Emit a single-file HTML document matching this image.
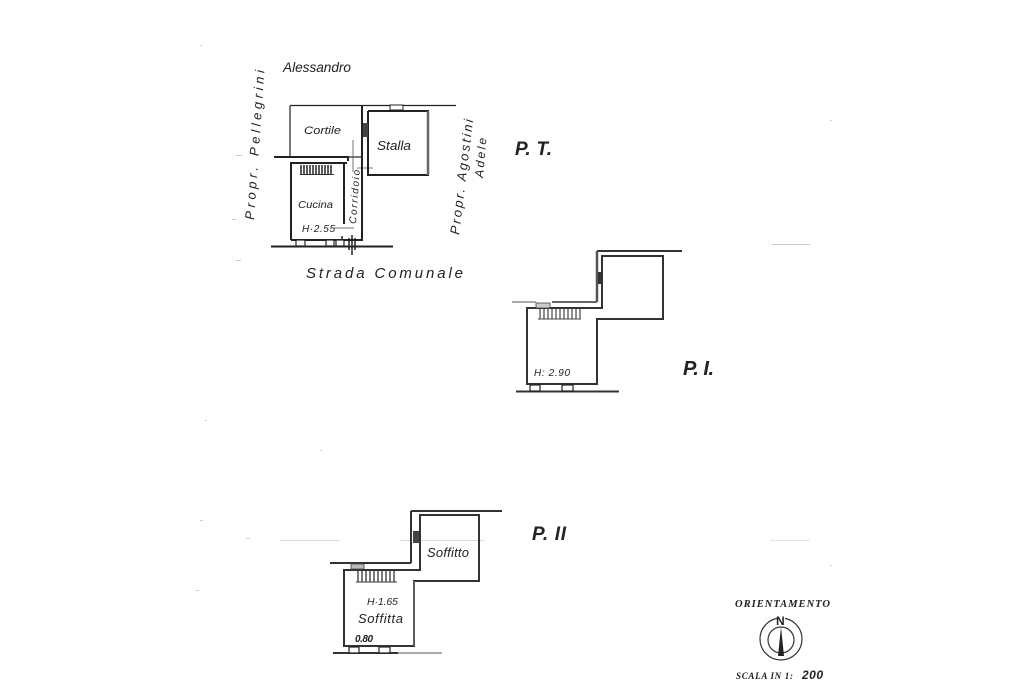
<!DOCTYPE html>
<html><head><meta charset="utf-8"><style>
html,body{margin:0;padding:0;background:#fff;width:1024px;height:682px;overflow:hidden}
svg{display:block;filter:blur(.35px)}
text{font-family:"Liberation Sans",sans-serif;font-style:italic;fill:#222}
</style></head><body>
<svg width="1024" height="682" viewBox="0 0 1024 682" xmlns="http://www.w3.org/2000/svg">
<rect width="1024" height="682" fill="#fff"/>
<!-- specks -->
<g fill="#ccc">
<rect x="236" y="155" width="6" height="1"/><rect x="232" y="219" width="4" height="1"/><rect x="236" y="260" width="5" height="1"/>
<rect x="772" y="244" width="38" height="1"/><rect x="246" y="538" width="4" height="1"/><rect x="280" y="540" width="60" height="1" fill="#ddd"/>
<rect x="400" y="540" width="85" height="1" fill="#ddd"/><rect x="200" y="520" width="3" height="1"/><rect x="196" y="590" width="3" height="1"/>
<rect x="320" y="450" width="2" height="1"/><rect x="205" y="420" width="2" height="1"/><rect x="830" y="565" width="2" height="1"/>
<rect x="200" y="45" width="2" height="1"/><rect x="830" y="120" width="2" height="1"/><rect x="770" y="540" width="40" height="1" fill="#e4e4e4"/>
</g>

<!-- P.T. plan -->
<g fill="none" stroke="#222" stroke-width="1.2">
<path d="M290 105.500H456M290 106V157"/>
<path d="M348 157H362"/>
<path d="M353 140V172M357 168H373" stroke="#555" stroke-width=".8"/>
</g>
<g fill="none" stroke="#222" stroke-width="2">
<path d="M274 157H348V161"/>
<path d="M291 240V163H347"/>
<path d="M291 240H362V106"/>
<path d="M368 111V175H428V111H368"/>
<path d="M344 163V224"/>
<path d="M271 246.500H393"/>
</g>
<path d="M428 111V175" stroke="#666" stroke-width="2.500" fill="none"/>
<rect x="390" y="105" width="13" height="5" fill="#fff" stroke="#222"/>
<rect x="363" y="123" width="5" height="14" fill="#444"/>
<path d="M301 165V174M304 165V174M307 165V174M310 165V174M313 165V174M316 165V174M319 165V174M322 165V174M325 165V174M328 165V174M331 165V174" stroke="#333" stroke-width="1.600"/>
<path d="M300 174.500H334" stroke="#333"/>
<g fill="#fff" stroke="#222" stroke-width="1.200">
<rect x="296" y="240" width="9" height="6"/><rect x="326" y="240" width="8" height="6"/><rect x="336" y="240" width="8" height="6"/>
</g>
<path d="M352 235V255M349 238V250M355 238V250M342 236V240" stroke="#222" stroke-width="1.500" fill="none"/>
<path d="M334 228H354" stroke="#444" stroke-width=".8"/>

<!-- P.I plan -->
<g fill="none" stroke="#333" stroke-width="2">
<path d="M597 251H682"/>
<path d="M597 251V302" stroke="#555" stroke-width="2.500"/>
<path d="M552 302H597" stroke="#666"/>
<path d="M512 302H536" stroke="#aaa"/>
<path d="M602 256H663V319H597V384H527V308H602Z"/>
<path d="M516 391.500H619"/>
</g>
<rect x="598" y="272" width="5" height="12" fill="#333"/>
<rect x="536" y="303" width="14" height="5" fill="#ccc" stroke="#444" stroke-width=".8"/>
<path d="M540 309V319M544 309V319M548 309V319M552 309V319M556 309V319M560 309V319M564 309V319M568 309V319M572 309V319M576 309V319M580 309V319" stroke="#444" stroke-width="1.200"/>
<path d="M538 319H581" stroke="#444"/>
<g fill="#fff" stroke="#222" stroke-width="1.200"><rect x="530" y="385" width="10" height="6"/><rect x="562" y="385" width="11" height="6"/></g>

<!-- P.II plan -->
<g fill="none" stroke="#333" stroke-width="2">
<path d="M411 511H502M411 511V563"/>
<path d="M330 563H411"/>
<path d="M420 515H479V581H414V646H344V570H420Z"/>
<path d="M333 653H398"/>
<path d="M398 653H442" stroke="#777" stroke-width="1.200"/>
</g>
<path d="M414 581V646" stroke="#888" stroke-width="1" fill="none"/>
<rect x="413" y="531" width="6" height="12" fill="#444"/>
<rect x="351" y="564" width="13" height="5" fill="#bbb" stroke="#444" stroke-width=".8"/>
<path d="M358 571V582M362 571V582M366 571V582M370 571V582M374 571V582M378 571V582M382 571V582M386 571V582M390 571V582M394 571V582" stroke="#333" stroke-width="1.300"/>
<path d="M356 582H397" stroke="#333"/>
<g fill="#fff" stroke="#222" stroke-width="1.200"><rect x="349" y="647" width="10" height="6"/><rect x="379" y="647" width="11" height="6"/></g>

<!-- labels -->
<text x="283" y="72" font-size="13.500" textLength="68" lengthAdjust="spacingAndGlyphs">Alessandro</text>
<text transform="translate(254,220) rotate(-86)" font-size="13" textLength="150" lengthAdjust="spacing">Propr. Pellegrini</text>
<text transform="translate(459,235) rotate(-83)" font-size="13" textLength="116" lengthAdjust="spacing">Propr. Agostini</text>
<text transform="translate(483,178) rotate(-85)" font-size="12" textLength="40" lengthAdjust="spacing">Adele</text>
<text x="304" y="134" font-size="11" textLength="37" lengthAdjust="spacingAndGlyphs">Cortile</text>
<text x="377" y="150" font-size="13" textLength="34" lengthAdjust="spacingAndGlyphs">Stalla</text>
<text x="298" y="208" font-size="10" textLength="35" lengthAdjust="spacingAndGlyphs">Cucina</text>
<text transform="translate(356,224) rotate(-86)" font-size="10" textLength="54" lengthAdjust="spacing">Corridoio</text>
<text x="302" y="232" font-size="10" textLength="33" lengthAdjust="spacing">H·2.55</text>
<text x="306" y="278" font-size="15" textLength="157" lengthAdjust="spacing">Strada Comunale</text>
<text x="515" y="155" font-size="19" font-weight="bold" textLength="37" lengthAdjust="spacing">P. T.</text>
<text x="534" y="376" font-size="10" textLength="36" lengthAdjust="spacing">H: 2.90</text>
<text x="683" y="375" font-size="20" font-weight="bold" textLength="31" lengthAdjust="spacing">P. I.</text>
<text x="532" y="540" font-size="19" font-weight="bold" textLength="34" lengthAdjust="spacing">P. II</text>
<text x="427" y="557" font-size="13" textLength="42" lengthAdjust="spacing">Soffitto</text>
<text x="367" y="605" font-size="10.500" textLength="31" lengthAdjust="spacing">H·1.65</text>
<text x="358" y="623" font-size="13" textLength="45" lengthAdjust="spacing">Soffitta</text>
<text x="355" y="642" font-size="10" font-weight="bold" textLength="18" lengthAdjust="spacing">0.80</text>

<!-- orientation -->
<text x="735" y="607" font-size="10.500" textLength="95" lengthAdjust="spacing" style='font-family:"Liberation Serif",serif' font-weight="bold">ORIENTAMENTO</text>
<circle cx="781" cy="639" r="21" fill="none" stroke="#333" stroke-width="1.200"/>
<circle cx="781" cy="640" r="13" fill="none" stroke="#333" stroke-width="1.200"/>
<rect x="777" y="614" width="8" height="12" fill="#fff"/>
<text x="776" y="625" font-size="12" font-weight="bold" style="font-style:normal">N</text>
<path d="M781 627L784 656H778Z" fill="#222"/>
<text x="736" y="679" font-size="9" textLength="57" lengthAdjust="spacing" style='font-family:"Liberation Serif",serif' font-weight="bold">SCALA IN 1:</text>
<text x="802" y="679" font-size="12" font-weight="bold" textLength="21" lengthAdjust="spacing">200</text>
</svg>
</body></html>
